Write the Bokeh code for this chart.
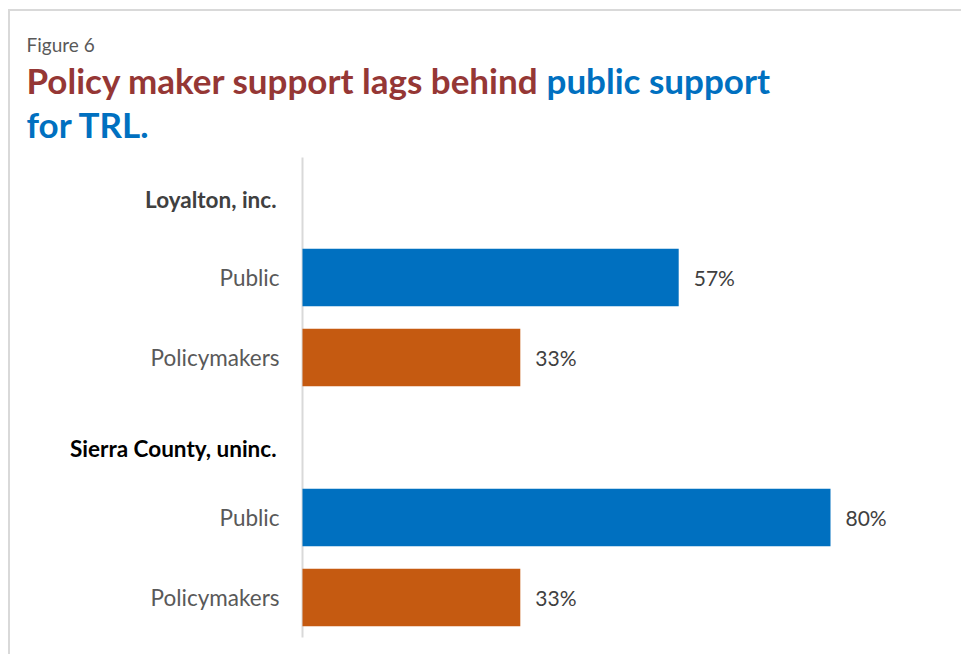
from bokeh.plotting import figure
from bokeh.models import Range1d, Label, ColumnDataSource
from bokeh.core.properties import value
from bokeh.embed import file_html
from bokeh.resources import INLINE

# ---- data ----
groups = ["Loyalton, inc.", "Sierra County, uninc."]
series = ["Public", "Policymakers"]
public_pct = [57, 80]
policymaker_pct = [33, 33]
figure_label = "Figure 6"
title_red = "Policy maker support lags behind"
title_blue_1 = "public support"
title_blue_2 = "for TRL."

# ---- styles ----
BLUE = "#0070C0"
ORANGE = "#C55A11"
RED = "#953735"
FONT = "Lato"
W, H = 953, 645
PX_PER_PCT = 6.6
ROW_PX = 80
TITLE_PX = 35

rows_y, rows_v, rows_c, rows_t, rows_name = [], [], [], [], []
head_y = []
r = 0
for g, pub, pol in zip(groups, public_pct, policymaker_pct):
    head_y.append(r)
    r += 1
    for name, v, c in zip(series, [pub, pol], [BLUE, ORANGE]):
        rows_y.append(r)
        rows_v.append(v)
        rows_c.append(c)
        rows_t.append(f"{v}%")
        rows_name.append(name)
        r += 1
n_rows = r

bars = ColumnDataSource(dict(y=rows_y, v=rows_v, c=rows_c, t=rows_t,
                             name=rows_name, zero=[0] * len(rows_y)))
heads = ColumnDataSource(dict(y=head_y, g=groups, zero=[0] * len(groups),
                              col=["#404040", "#000000"], dy=[2, 11]))

x0 = -292 / PX_PER_PCT
y0 = -(197 - 11) / ROW_PX
p = figure(width=W, height=H, output_backend="svg", toolbar_location=None,
           x_range=Range1d(x0, x0 + W / PX_PER_PCT),
           y_range=Range1d(y0 + H / ROW_PX, y0),
           x_axis_location=None, y_axis_location=None,
           min_border=0)
p.margin = (9, 0, 0, 8)
p.styles = {"border-top": "2px solid #D9D9D9", "border-left": "2px solid #D9D9D9",
            "border-right": "0px none", "border-bottom": "0px none"}
p.outline_line_color = None
p.xgrid.visible = False
p.ygrid.visible = False
p.background_fill_color = "white"
p.border_fill_color = "white"

# category axis line
p.segment(x0=0, y0=-0.5, x1=0, y1=n_rows - 0.5, line_color="#D9D9D9", line_width=2)

p.hbar(y="y", right="v", left="zero", height=0.72, fill_color="c", line_color=None, source=bars)
p.text(x="v", y="y", text="t", source=bars, x_offset=15,
       text_baseline="middle", text_align="left",
       text_font=value(FONT), text_font_size="21px", text_color="#404040")
p.text(x="zero", y="y", text="name", source=bars, x_offset=-23,
       text_baseline="middle", text_align="right",
       text_font=value(FONT), text_font_size="22.5px", text_color="#595959")
p.text(x="zero", y="y", text="g", source=heads, x_offset=-26, y_offset="dy",
       text_baseline="middle", text_align="right",
       text_font=value(FONT), text_font_style="bold",
       text_font_size="22.5px", text_color="col")


def sy(page_baseline, size):
    # screen y (from bottom of canvas) for a given page baseline
    return H - (page_baseline - 11) + 0.35 * size


p.add_layout(Label(x=16, y=sy(51, 19), x_units="screen", y_units="screen",
                   text=figure_label, text_font=FONT, text_font_size="19px",
                   text_color="#595959", text_baseline="alphabetic"))
p.add_layout(Label(x=16, y=sy(92, TITLE_PX), x_units="screen", y_units="screen",
                   text=title_red, text_font=FONT, text_font_style="bold",
                   text_font_size=f"{TITLE_PX}px", text_color=RED, text_baseline="alphabetic"))
p.add_layout(Label(x=536, y=sy(92, TITLE_PX), x_units="screen", y_units="screen",
                   text=title_blue_1, text_font=FONT, text_font_style="bold",
                   text_font_size=f"{TITLE_PX}px", text_color=BLUE, text_baseline="alphabetic"))
p.add_layout(Label(x=16, y=sy(136, TITLE_PX), x_units="screen", y_units="screen",
                   text=title_blue_2, text_font=FONT, text_font_style="bold",
                   text_font_size=f"{TITLE_PX}px", text_color=BLUE, text_baseline="alphabetic"))

open("out.html", "w").write(file_html(p, INLINE))
